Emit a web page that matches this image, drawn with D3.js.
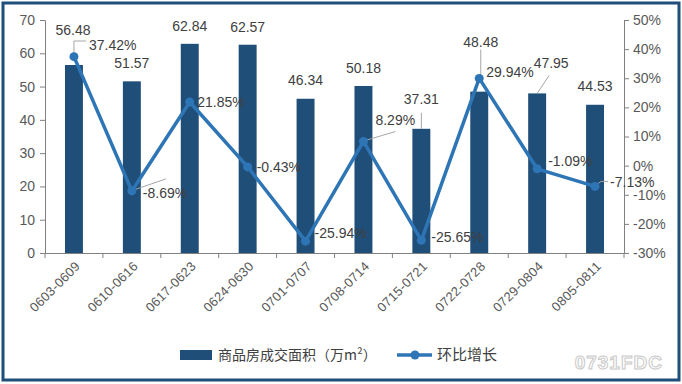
<!DOCTYPE html>
<html>
<head>
<meta charset="utf-8">
<script src="https://cdn.jsdelivr.net/npm/d3@7/dist/d3.min.js"></script>
<style>
  html, body { margin: 0; padding: 0; background: #fff; }
  svg { display: block; font-family: "Liberation Sans", "Noto Sans CJK SC", sans-serif; }
</style>
</head>
<body>
<div id="chart"></div>
<script>
// data
const weeks = ['0603-0609', '0610-0616', '0617-0623', '0624-0630', '0701-0707',
  '0708-0714', '0715-0721', '0722-0728', '0729-0804', '0805-0811']
const area = [56.48, 51.57, 62.84, 62.57, 46.34, 50.18, 37.31, 48.48, 47.95, 44.53]
const growth = [37.42, -8.69, 21.85, -0.43, -25.94, 8.29, -25.65, 29.94, -1.09, -7.13]
const leftTicks = [0, 10, 20, 30, 40, 50, 60, 70]
const rightTicks = [-30, -20, -10, 0, 10, 20, 30, 40, 50]

// label placement (offsets from bar top / line point)
const areaLabelOff = [[-1, -30], [0, -13], [0, -13], [0, -13], [0, -14],
  [0, -13], [0, -25], [1.5, -45], [14, -25], [0, -14]]
const growthLabelOff = [[15, -7], [11, 7], [7.5, 5], [9, 5], [9, -3],
  [12, -16], [10, 2], [7, -1], [11, -3], [15, 1]]

const width = 682, height = 384
const margin = { top: 20, right: 58, bottom: 131, left: 45 }
const barColor = '#1f4e79', lineColor = '#2e75b6'
const axisColor = '#808080', textColor = '#404040', leaderColor = '#a6a6a6'

const svg = d3.select('#chart').append('svg')
  .attr('width', width).attr('height', height)

svg.append('rect')
  .attr('x', 3).attr('y', 3).attr('width', width - 6).attr('height', height - 7)
  .attr('fill', '#fff').attr('stroke', barColor).attr('stroke-width', 3)

const x = d3.scaleBand().domain(weeks)
  .range([margin.left, width - margin.right])
const yL = d3.scaleLinear().domain([0, 70]).range([height - margin.bottom, margin.top])
const yR = d3.scaleLinear().domain([-30, 50]).range([height - margin.bottom, margin.top])
const barW = x.bandwidth() * 0.31
const cx = d => x(d) + x.bandwidth() / 2

// axes
const gL = svg.append('g').attr('transform', `translate(${margin.left},0)`)
  .call(d3.axisLeft(yL).tickValues(leftTicks).tickSize(5).tickPadding(5))
const gR = svg.append('g').attr('transform', `translate(${width - margin.right},0)`)
  .call(d3.axisRight(yR).tickValues(rightTicks).tickSize(5).tickPadding(4)
    .tickFormat(d => d + '%'))
const gX = svg.append('g').attr('transform', `translate(0,${height - margin.bottom})`)
  .call(d3.axisBottom(x).tickSize(0).tickFormat(''))

for (const g of [gL, gR, gX]) {
  g.select('.domain').attr('stroke', axisColor)
  g.selectAll('.tick line').attr('stroke', axisColor)
  g.selectAll('.tick text').attr('fill', '#595959').style('font-size', '14px')
    .style('font-family', '"Liberation Sans", sans-serif')
}

// x ticks at band boundaries
gX.selectAll('line.bound')
  .data(weeks.concat(['end']))
  .join('line')
  .attr('class', 'bound')
  .attr('x1', (d, i) => margin.left + i * x.step())
  .attr('x2', (d, i) => margin.left + i * x.step())
  .attr('y1', 0).attr('y2', 5)
  .attr('stroke', axisColor)

// rotated category labels
svg.append('g').selectAll('text')
  .data(weeks)
  .join('text')
  .attr('transform', d => `translate(${cx(d) + 7},${height - margin.bottom + 14}) rotate(-45)`)
  .attr('text-anchor', 'end')
  .attr('fill', '#595959')
  .style('font-size', '13px')
  .style('letter-spacing', '0.3px')
  .text(d => d)

// bars
svg.append('g').selectAll('rect')
  .data(area)
  .join('rect')
  .attr('x', (d, i) => cx(weeks[i]) - barW / 2)
  .attr('y', d => yL(d))
  .attr('width', barW)
  .attr('height', d => yL(0) - yL(d))
  .attr('fill', barColor)

// leader lines (relative to the mark they belong to)
const leaders = [
  { pts: () => [[cx(weeks[0]), yR(growth[0])], [cx(weeks[0]), 41], [cx(weeks[0]) + 12, 41]] },
  { pts: () => [[cx(weeks[1]) + 2, yR(growth[1]) - 1], [cx(weeks[1]) + 34, yR(growth[1]) - 12]] },
  { pts: () => [[cx(weeks[5]) + 2, yR(growth[5]) - 1], [cx(weeks[5]) + 32, yR(growth[5]) - 10]] },
  { pts: () => [[cx(weeks[6]), yL(area[6]) - 16], [cx(weeks[6]), yL(area[6])]] },
  { pts: () => [[cx(weeks[7]) + 1.5, yL(area[7]) - 42], [cx(weeks[7]) + 1.5, yR(growth[7])]] },
  { pts: () => [[cx(weeks[8]), yL(area[8])], [cx(weeks[8]) + 12, yL(area[8]) - 18]] },
  { pts: () => [[cx(weeks[9]) + 2, yR(growth[9]) - 2], [cx(weeks[9]) + 6, yR(growth[9]) - 5], [cx(weeks[9]) + 13, yR(growth[9]) - 5]] }
]
svg.append('g').selectAll('path')
  .data(leaders)
  .join('path')
  .attr('d', d => d3.line()(d.pts()))
  .attr('fill', 'none')
  .attr('stroke', leaderColor)
  .attr('stroke-width', 1)

// line series
const line = d3.line()
  .x((d, i) => cx(weeks[i]))
  .y(d => yR(d))
svg.append('path')
  .datum(growth)
  .attr('d', line)
  .attr('fill', 'none')
  .attr('stroke', lineColor)
  .attr('stroke-width', 3.5)
  .attr('stroke-linejoin', 'round')
svg.append('g').selectAll('circle')
  .data(growth)
  .join('circle')
  .attr('cx', (d, i) => cx(weeks[i]))
  .attr('cy', d => yR(d))
  .attr('r', 4.5)
  .attr('fill', lineColor)

// data labels
svg.append('g').selectAll('text')
  .data(area)
  .join('text')
  .attr('x', (d, i) => cx(weeks[i]) + areaLabelOff[i][0])
  .attr('y', (d, i) => yL(d) + areaLabelOff[i][1])
  .attr('text-anchor', 'middle')
  .attr('fill', textColor)
  .style('font-size', '14px')
  .text(d => d.toFixed(2))

svg.append('g').selectAll('text')
  .data(growth)
  .join('text')
  .attr('x', (d, i) => cx(weeks[i]) + growthLabelOff[i][0])
  .attr('y', (d, i) => yR(d) + growthLabelOff[i][1])
  .attr('fill', textColor)
  .style('font-size', '14px')
  .text(d => d.toFixed(2) + '%')

// legend
const lg = svg.append('g').attr('transform', 'translate(0,355)')
  .style('font-family', '"Noto Sans CJK SC", sans-serif')
lg.append('rect').attr('x', 180).attr('y', -5).attr('width', 32).attr('height', 10)
  .attr('fill', barColor)
lg.append('text').attr('x', 218).attr('y', 5)
  .attr('fill', textColor).style('font-size', '14px')
  .text('商品房成交面积（万m²）')
lg.append('line').attr('x1', 397).attr('x2', 432).attr('y1', 0).attr('y2', 0)
  .attr('stroke', lineColor).attr('stroke-width', 3.5)
lg.append('circle').attr('cx', 415).attr('cy', 0).attr('r', 4.5).attr('fill', lineColor)
lg.append('text').attr('x', 437).attr('y', 5)
  .attr('fill', textColor).style('font-size', '15px')
  .text('环比增长')

// watermark
svg.append('text')
  .attr('x', 663).attr('y', 369)
  .attr('text-anchor', 'end')
  .attr('fill', '#fff').attr('stroke', '#c8c8c8').attr('stroke-width', 1)
  .style('font-size', '19px').style('font-weight', 'bold')
  .style('letter-spacing', '1px')
  .text('0731FDC')
</script>
</body>
</html>
